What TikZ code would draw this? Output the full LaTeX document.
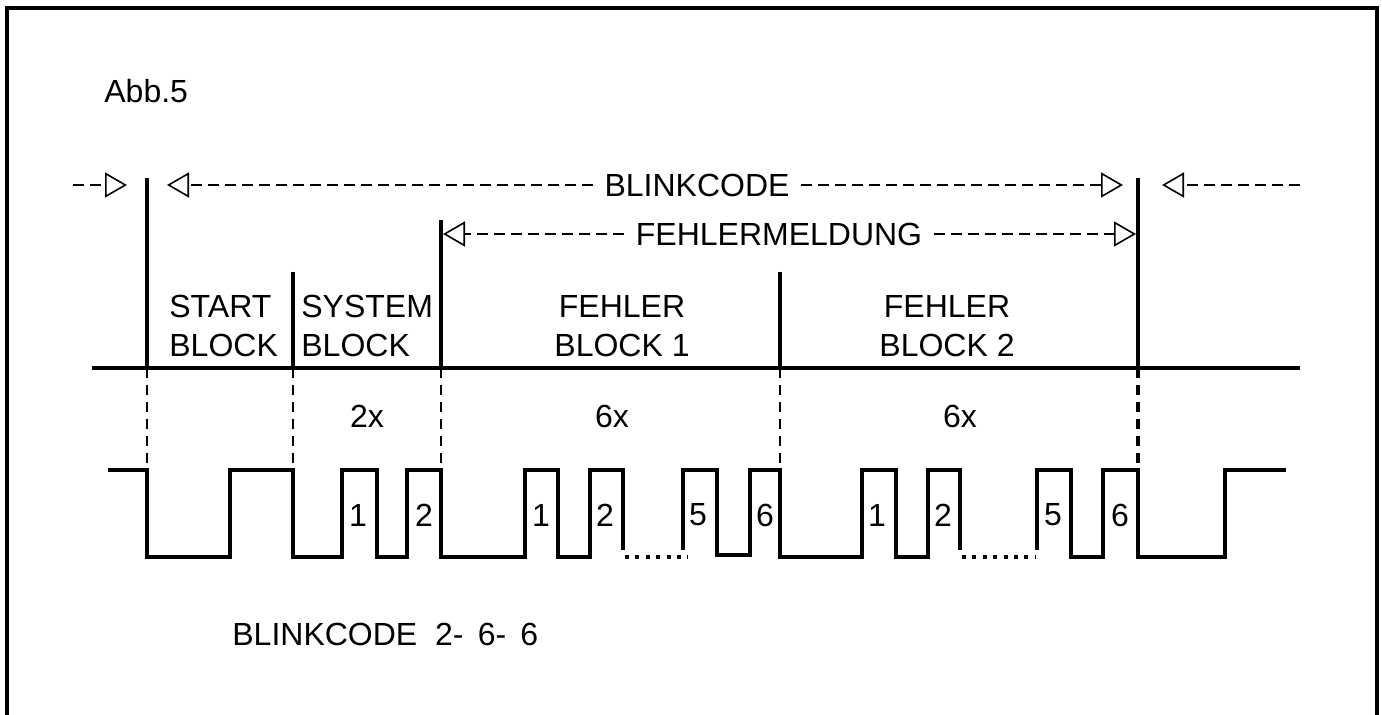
\documentclass[tikz,border=0pt]{standalone}
\usepackage{fontspec}
\setmainfont{Liberation Sans}
\usetikzlibrary{arrows.meta}
\begin{document}
\begin{tikzpicture}[x=0.5pt,y=-0.5pt,
  lbl/.style={inner sep=0pt, font=\fontsize{16}{19.5}\selectfont},
  gaplbl/.style={lbl, inner xsep=5.5pt},
  sepline/.style={line width=1.6pt},
  guide/.style={line width=0.7pt, dash pattern=on 5pt off 3.5pt},
  guidethick/.style={line width=1.6pt, dash pattern=on 5pt off 3.5pt},
  dim/.style={line width=0.7pt, dash pattern=on 5.5pt off 3pt},
  tipr/.style={-{Triangle[open,length=11pt,width=12.5pt,line width=0.8pt]}},
  sig/.style={line width=2pt, line join=miter},
  dots/.style={line width=2pt, dash pattern=on 2pt off 3.2pt}
]
\useasboundingbox (0,0) rectangle (1382,715);
\clip (0,0) rectangle (1382,715);
% frame
\draw[line width=1.6pt] (7,740) -- (7,8) -- (1377,8) -- (1377,740);

\node[lbl, anchor=west] (abb) at (104,91) {Abb.5};

% top dimension line
\coordinate (la) at (73,185);
\coordinate (lb) at (127,185);
\draw[dim,tipr] (la) -- (lb);
\node[gaplbl] (blink) at (697,185) {BLINKCODE};
\coordinate (bl) at (167,185);
\coordinate (br) at (1123,185);
\draw[dim,tipr] (blink) -- (bl);
\draw[dim,tipr] (blink) -- (br);
\coordinate (ra) at (1300,185);
\coordinate (rb) at (1162,185);
\draw[dim,tipr] (ra) -- (rb);

% fehlermeldung dimension line
\node[gaplbl] (fm) at (779,234) {FEHLERMELDUNG};
\coordinate (fl) at (443,234);
\coordinate (fr) at (1136,234);
\draw[dim,tipr] (fm) -- (fl);
\draw[dim,tipr] (fm) -- (fr);

% separators
\coordinate (v1t) at (147,178);  \coordinate (v1b) at (147,368);
\coordinate (v2t) at (293,272);  \coordinate (v2b) at (293,368);
\coordinate (v3t) at (441,220);  \coordinate (v3b) at (441,368);
\coordinate (v4t) at (780,272);  \coordinate (v4b) at (780,368);
\coordinate (v5t) at (1138,178); \coordinate (v5b) at (1138,368);
\foreach \i in {1,...,5} \draw[sepline] (v\i t) -- (v\i b);
\coordinate (hl) at (92,368); \coordinate (hr) at (1300,368);
\draw[sepline] (hl) -- (hr);

% guides
\coordinate (g1) at (147,470);
\coordinate (g2) at (293,470);
\coordinate (g3) at (441,470);
\coordinate (g4) at (780,470);
\coordinate (g5) at (1138,470);
\foreach \i in {1,...,4} \draw[guide] (v\i b) -- (g\i);
\draw[guidethick] (v5b) -- (g5);

% block labels
\node[lbl, align=left, anchor=west] (start) at (169,326) {START\\BLOCK};
\node[lbl, align=left, anchor=west] (system) at (301,326) {SYSTEM\\BLOCK};
\node[lbl, align=center] (fb1) at (622,326) {FEHLER\\BLOCK 1};
\node[lbl, align=center] (fb2) at (947,326) {FEHLER\\BLOCK 2};
\node[lbl] (n2x) at (367,416) {2x};
\node[lbl] (n6a) at (612,416) {6x};
\node[lbl] (n6b) at (960,416) {6x};

% waveform
\draw[sig] (108,470) -- (147,470) -- (147,557) -- (230,557) -- (230,470) -- (293,470)
  -- (293,557) -- (342,557) -- (342,470) -- (377,470) -- (377,557) -- (407,557)
  -- (407,470) -- (441,470) -- (441,557) -- (525,557) -- (525,470) -- (558,470)
  -- (558,557) -- (590,557) -- (590,470) -- (623,470) -- (623,550);
\draw[dots] (625,557) -- (688,557);
\draw[sig] (683,550) -- (683,470) -- (717,470) -- (717,555) -- (750,555) -- (750,470)
  -- (780,470) -- (780,557) -- (862,557) -- (862,470) -- (896,470) -- (896,557)
  -- (928,557) -- (928,470) -- (960,470) -- (960,550);
\draw[dots] (962,557) -- (1035,557);
\draw[sig] (1037,550) -- (1037,470) -- (1071,470) -- (1071,557) -- (1103,557)
  -- (1103,470) -- (1138,470) -- (1138,557) -- (1225,557) -- (1225,470) -- (1286,470);

% pulse numbers
\node[lbl] (s1) at (358,515) {1};
\node[lbl] (s2) at (424,515) {2};
\node[lbl] (a1) at (541,515) {1};
\node[lbl] (a2) at (605,515) {2};
\node[lbl] (a5) at (698,515) {5};
\node[lbl] (a6) at (765,515) {6};
\node[lbl] (b1) at (877,515) {1};
\node[lbl] (b2) at (943,515) {2};
\node[lbl] (b5) at (1053,515) {5};
\node[lbl] (b6) at (1120,515) {6};

\node[lbl, anchor=west] (code) at (232,634) {BLINKCODE\ \ 2-\ \,6-\ \,6};
\end{tikzpicture}
\end{document}
